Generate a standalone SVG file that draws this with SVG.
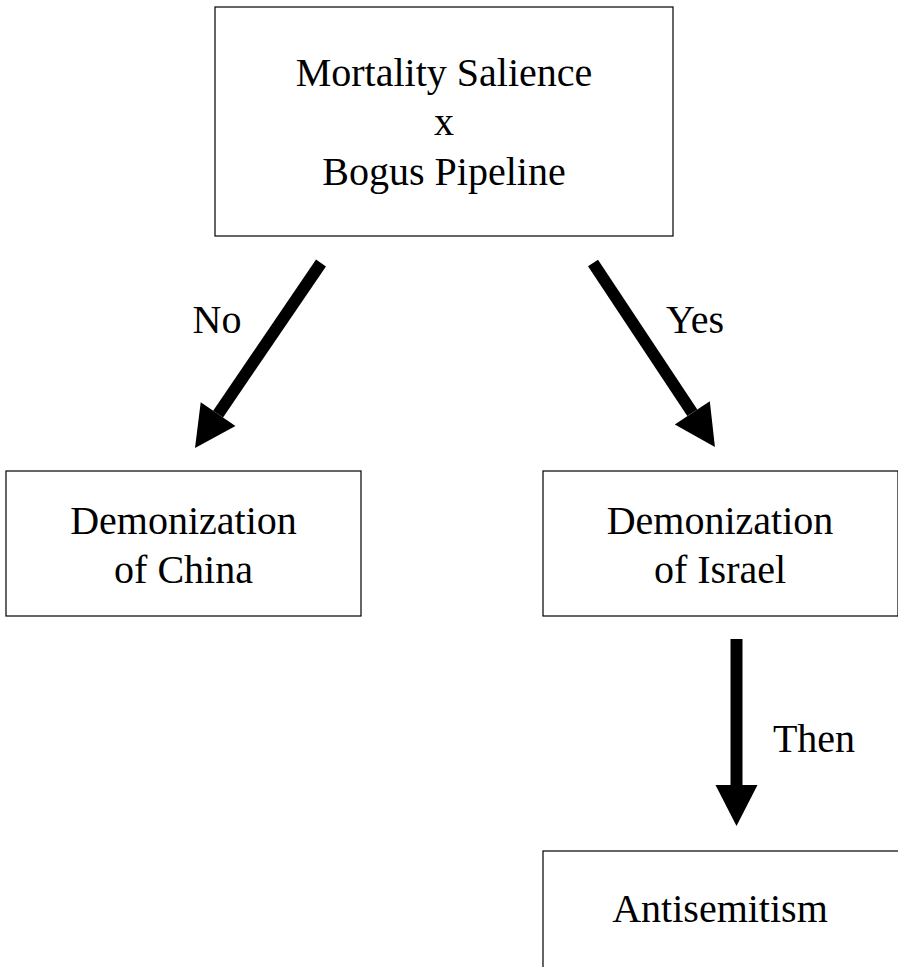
<svg xmlns="http://www.w3.org/2000/svg" width="898" height="967" viewBox="0 0 898 967">
<style>
.box{fill:#fff;stroke:#000;stroke-width:1.2}
.t{font-family:"Liberation Serif","Times New Roman",serif;font-size:40px;fill:#000;text-anchor:middle}
.conn{stroke:#000;stroke-width:12;fill:none;marker-end:url(#head)}
</style>
<defs>
<marker id="head" markerUnits="userSpaceOnUse" markerWidth="41" markerHeight="42" refX="0" refY="21" orient="auto" overflow="visible">
<path d="M0,0 L41,21 L0,42 Z" fill="#000"/>
</marker>
</defs>
<rect width="898" height="967" fill="#fff"/>
<g id="connectors">
<line class="conn" x1="321" y1="263" x2="218.1" y2="414.1"/>
<line class="conn" x1="593" y1="263" x2="692.3" y2="412.8"/>
<line class="conn" x1="736.5" y1="639" x2="736.5" y2="785"/>
<text class="t" x="217" y="333">No</text>
<text class="t" x="695" y="333">Yes</text>
<text class="t" x="814" y="752">Then</text>
</g>
<g id="node-ms">
<rect class="box" x="215" y="7" width="458" height="229"/>
<text class="t" x="444" y="86">Mortality Salience</text>
<text class="t" x="444" y="135">x</text>
<text class="t" x="444" y="185">Bogus Pipeline</text>
</g>
<g id="node-china">
<rect class="box" x="6" y="471" width="355" height="145"/>
<text class="t" x="183.5" y="534">Demonization</text>
<text class="t" x="183.5" y="583">of China</text>
</g>
<g id="node-israel">
<rect class="box" x="543" y="471" width="355" height="145"/>
<text class="t" x="720" y="534">Demonization</text>
<text class="t" x="720" y="583">of Israel</text>
</g>
<g id="node-anti">
<rect class="box" x="543" y="851" width="360" height="130"/>
<text class="t" x="720" y="922">Antisemitism</text>
</g>
</svg>
